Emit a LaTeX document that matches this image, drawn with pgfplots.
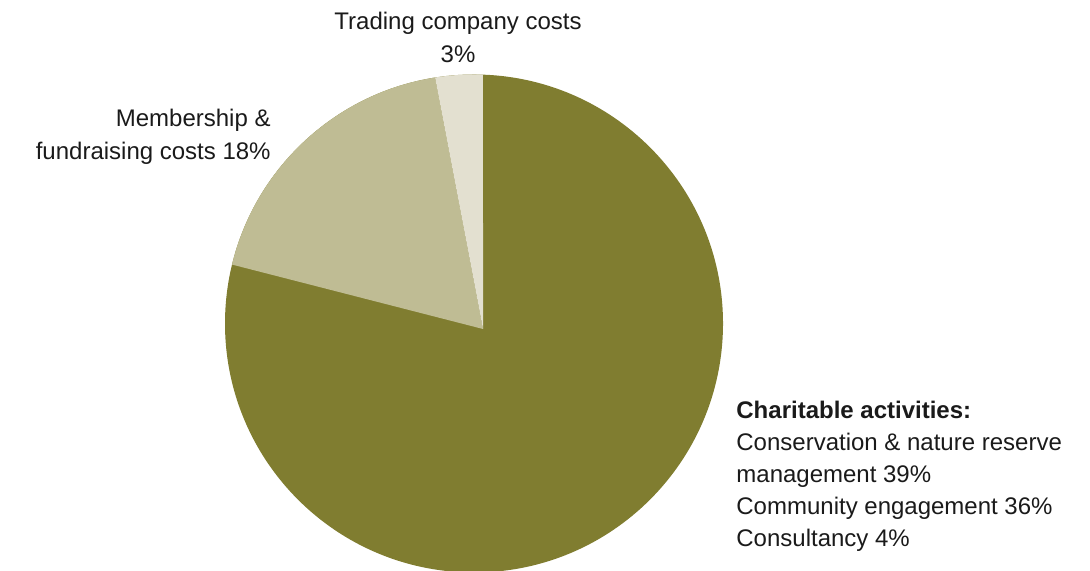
\documentclass[border=0pt]{standalone}
\usepackage{pgfplots}
\pgfplotsset{compat=1.18}
\usepackage{pgfplotstable}
\usepackage{fontspec}
\setmainfont{Liberation Sans}

\definecolor{charit}{HTML}{807D30}
\definecolor{member}{HTML}{BFBC94}
\definecolor{trading}{HTML}{E3E0D0}
\definecolor{txt}{HTML}{1A1A1A}

% share of costs, per cent
\pgfplotstableread{
part value
charitable 79
membership 18
trading 3
}\costs

\begin{document}
\begin{tikzpicture}[font=\fontsize{12}{16}\selectfont, every node/.style={inner sep=0pt, text=txt}]
\pgfplotstablegetelem{0}{value}\of\costs \let\vc\pgfplotsretval
\pgfplotstablegetelem{1}{value}\of\costs \let\vm\pgfplotsretval
\pgfplotstablegetelem{2}{value}\of\costs \let\vt\pgfplotsretval
\pgfmathsetmacro\total{\vc+\vm+\vt}
\pgfmathsetmacro\aA{90-\vc/\total*360}
\pgfmathsetmacro\aB{\aA-\vm/\total*360}
\pgfmathsetmacro\aC{\aB-\vt/\total*360}
\begin{axis}[
    x=0.5pt, y=0.5pt,
    xmin=0, xmax=1090, ymin=0, ymax=571,
    hide axis,
]
\begin{scope}
  \clip (axis cs:474,247.5) circle[radius=124.5pt];
  \fill[charit] (axis cs:474,247.5) circle[radius=130pt];
  \fill[member] (axis cs:483,242) -- ++(\aA:300pt)
      arc[start angle=\aA, end angle=\aB, radius=300pt] -- cycle;
  \fill[trading] (axis cs:483,242) -- ++(\aB:300pt)
      arc[start angle=\aB, end angle=\aC, radius=300pt] -- cycle;
\end{scope}

\node[anchor=base] at (axis cs:458,541) {Trading company costs};
\node[anchor=base] at (axis cs:458,508) {3\%};
\node[anchor=base east] at (axis cs:271,444) {Membership \&};
\node[anchor=base east] at (axis cs:271,411) {fundraising costs 18\%};

\node[anchor=base west] at (axis cs:736,152) {\bfseries Charitable activities:};
\node[anchor=base west] at (axis cs:736,120) {Conservation \& nature reserve};
\node[anchor=base west] at (axis cs:736,88) {management 39\%};
\node[anchor=base west] at (axis cs:736,56) {Community engagement 36\%};
\node[anchor=base west] at (axis cs:736,24) {Consultancy 4\%};
\end{axis}
\pgfresetboundingbox
\useasboundingbox (current axis.south west) rectangle (current axis.north east);
\end{tikzpicture}
\end{document}
